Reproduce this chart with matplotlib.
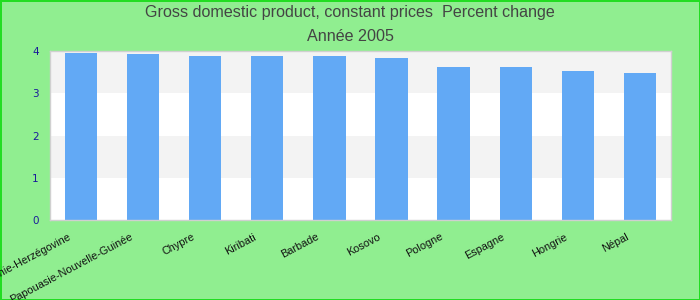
import matplotlib.pyplot as plt
from matplotlib.transforms import ScaledTranslation

# values
countries = ["Bosnie-Herzégovine", "Papouasie-Nouvelle-Guinée", "Chypre", "Kiribati",
             "Barbade", "Kosovo", "Pologne", "Espagne", "Hongrie", "Népal"]
growth = [3.95, 3.93, 3.90, 3.90, 3.88, 3.83, 3.62, 3.62, 3.53, 3.48]
y_ticks = [0, 1, 2, 3, 4]

BG_GREEN = "#90ee90"
BAR_BLUE = "#62a9f5"

fig = plt.figure(figsize=(7, 3), dpi=100, facecolor=BG_GREEN,
                 edgecolor="#22dd22", linewidth=2)
ax = fig.add_axes([0.0714, 0.2667, 0.887, 0.5623])
ax.set_facecolor("white")

# alternating horizontal bands
for i in range(len(y_ticks) - 1):
    if i % 2 == 1:
        ax.axhspan(y_ticks[i], y_ticks[i + 1], color="#f3f3f3", zorder=0, lw=0)

x = list(range(len(countries)))
ax.bar(x, growth, width=0.52, color=BAR_BLUE, zorder=2)

ax.set_xlim(-0.5, len(countries) - 0.5)
ax.set_ylim(0, 4)
ax.set_yticks(y_ticks)
ax.set_yticklabels([str(v) for v in y_ticks], color="#1a1a9a", fontsize=7.5)
ax.tick_params(axis="y", length=0, pad=8)
ax.set_xticks(x)
ax.set_xticklabels(countries, rotation=28, ha="right", fontsize=7.8,
                   family="Liberation Sans", color="#111111")
ax.tick_params(axis="x", length=0, pad=7)
shift = ScaledTranslation(-9 / 100, -2 / 100, fig.dpi_scale_trans)
for lbl in ax.get_xticklabels():
    lbl.set_transform(lbl.get_transform() + shift)

for s in ax.spines.values():
    s.set_color("#d0d0d0")
    s.set_linewidth(1)

fig.text(0.5, 0.958, "Gross domestic product, constant prices  Percent change",
         ha="center", va="center", fontsize=11.6, family="Liberation Sans", color="#444444")
fig.text(0.5, 0.878, "Année 2005", ha="center", va="center", fontsize=11.6,
         family="Liberation Sans", color="#444444")

fig.savefig("out.png", dpi=100, facecolor=fig.get_facecolor(), edgecolor=fig.get_edgecolor())
